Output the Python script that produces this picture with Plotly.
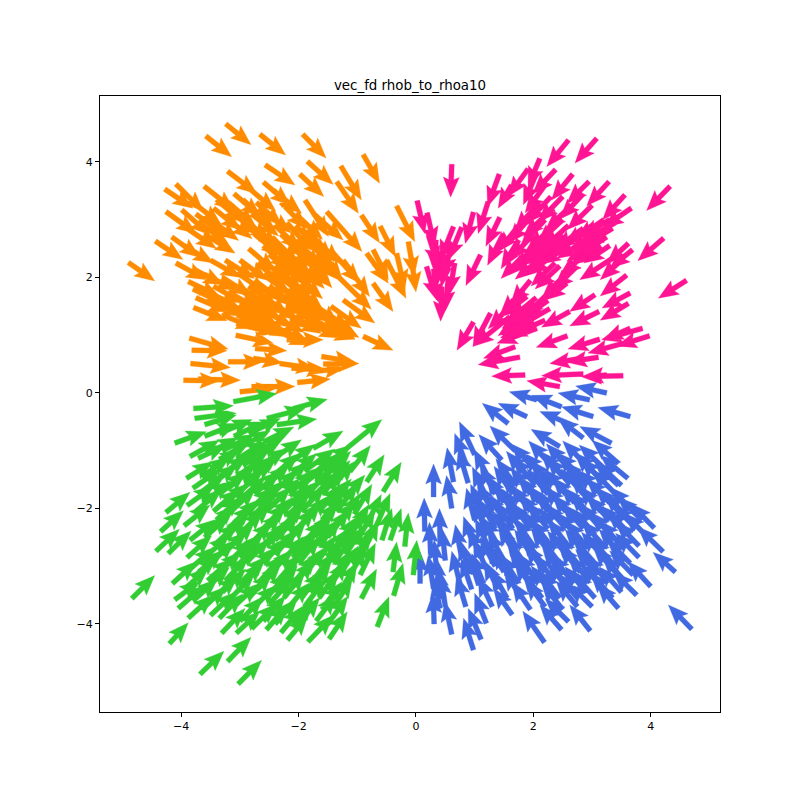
import numpy as np
import plotly.graph_objects as go

TITLE = "vec_fd rhob_to_rhoa10"
TICKS = [-4, -2, 0, 2, 4]

# each row: tail x, tail y, u, v (data units)
orange_arrows = [
(-4.90,2.26,.45,-.32),(-3.24,4.66,.43,-.36),(-3.58,4.45,.44,-.36),(-2.66,4.48,.44,-.36),(-1.93,4.48,.40,-.41),
(-.90,4.13,.28,-.50),(-2.57,3.95,.51,-.35),(-3.21,3.84,.50,-.39),(-1.85,4.01,.44,-.40),(-1.98,3.79,.41,-.39),
(-1.28,3.93,.35,-.59),(-1.35,3.66,.37,-.55),(-3.61,3.58,.52,-.42),(-4.28,3.53,.48,-.33),(-4.09,3.62,.47,-.48),
(-2.43,3.51,.48,-.40),(-1.89,3.34,.40,-.63),(-1.52,3.14,.60,-.69),(-.93,3.08,.31,-.48),(-.61,2.89,.26,-.53),
(-.33,3.24,.31,-.62),(-.13,2.62,.10,-.60),(-.08,2.35,.08,-.60),(-4.26,3.14,.52,-.38),(-3.99,3.17,.48,-.43),
(-4.44,2.63,.47,-.32),(-4.16,2.70,.48,-.35),(-4.09,2.25,.52,-.29),(-3.88,1.93,.54,-.26),(-3.79,1.48,.57,-.23),
(-3.86,.95,.66,-.19),(-3.82,.74,.60,-.01),(-3.84,.51,.68,-.07),(-3.20,.54,.60,0),(-3.96,.22,.62,-.01),
(-3.71,.24,.72,-.02),(-2.74,.77,.54,-.04),(-3.07,1.00,.64,-.14),(-2.35,1.06,.54,-.23),(-.90,.98,.51,-.24),
(-1.61,.63,.57,-.09),(-1.58,.50,.61,.01),(-2.32,.51,.62,-.09),(-2.12,.43,.60,-.03),(-3.00,.02,.62,.06),
(-2.80,.11,.74,0),(-2.02,.18,.56,.06),(-1.75,.37,.54,.06),(-2.77,.60,.50,-.08),(-1.69,1.15,.65,-.22),
(-2.20,.92,.62,0),(-3.06,1.20,.68,-.17),(-2.54,1.20,.70,-.30),(-1.46,2.48,.51,-.58),(-1.24,2.30,.45,-.63),
(-1.30,1.99,.54,-.54),(-1.24,1.61,.54,-.40),(-1.69,1.49,.57,-.38),(-1.58,1.38,.54,-.45),(-.50,2.30,.33,-.66),
(-.73,2.48,.26,-.52),(-.73,1.90,.34,-.49),(-.84,2.42,.37,-.52),(-.33,2.42,.14,-.63),(-1.75,3.11,.51,-.46),
(-3.45,3.20,.47,-.38),(-3.20,3.30,.46,-.40),(-2.95,3.35,.45,-.42),(-2.72,3.30,.44,-.40),(-2.60,3.15,.48,-.38),
(-2.30,3.30,.44,-.46),(-2.05,3.10,.46,-.44),(-3.75,3.10,.50,-.37),(-3.50,3.00,.48,-.36),(-3.25,3.05,.46,-.38),
(-2.95,3.00,.47,-.35),(-2.20,2.95,.42,-.48),(-1.95,2.85,.44,-.50),(-1.75,2.70,.46,-.46),(-3.90,2.85,.50,-.35),
(-3.60,2.75,.52,-.33),(-2.45,2.70,.44,-.46),(-2.20,2.65,.42,-.48),(-1.95,2.55,.44,-.46),(-1.65,2.45,.40,-.50),
(-3.95,2.55,.50,-.30),(-2.85,2.50,.46,-.40),(-2.60,2.55,.45,-.42),(-2.35,2.45,.44,-.44),(-2.10,2.35,.46,-.45),
(-1.85,2.30,.42,-.48),(-3.50,2.30,.52,-.30),(-3.25,2.30,.50,-.32),(-3.00,2.30,.47,-.35),(-2.70,2.25,.45,-.38),
(-2.40,2.20,.46,-.42),(-2.15,2.15,.44,-.44),(-3.80,2.15,.52,-.28),(-3.60,2.05,.54,-.27),
(-3.30,2.00,.50,-.32),(-3.00,2.05,.48,-.34),(-2.75,1.95,.47,-.36),(-2.20,1.95,.46,-.40),
(-3.20,1.75,.52,-.30),(-2.95,1.80,.50,-.33),(-2.65,1.70,.48,-.36),(-2.35,1.70,.47,-.38),(-2.10,1.65,.46,-.40),
(-1.80,1.60,.48,-.42),(-3.50,1.60,.54,-.27),(-3.20,1.50,.54,-.26),(-2.90,1.50,.52,-.30),(-2.60,1.45,.50,-.32),
(-2.30,1.45,.50,-.34),(-2.00,1.40,.50,-.36),(-1.70,1.40,.52,-.38),(-1.45,1.50,.52,-.38),(-3.30,1.35,.58,-.24),
(-2.70,1.25,.56,-.28),(-1.90,1.25,.60,-.30),(-1.55,1.30,.58,-.34),
(-3.10,3.10,.46,-.38),(-2.80,3.10,.46,-.38),(-2.80,2.90,.46,-.38),(-2.40,2.90,.44,-.42),(-2.05,2.90,.44,-.44),
(-2.75,2.75,.46,-.38),(-2.30,2.75,.44,-.42),(-1.85,2.75,.44,-.46),(-2.45,2.60,.46,-.40),(-2.05,2.60,.44,-.44),
(-1.80,2.60,.42,-.46),(-2.50,2.40,.46,-.40),(-2.20,2.40,.44,-.42),(-1.95,2.40,.44,-.44),(-1.70,2.40,.42,-.46),
(-2.55,2.25,.46,-.38),(-2.25,2.25,.46,-.40),(-2.00,2.25,.44,-.44),(-2.60,2.05,.48,-.36),(-2.35,2.05,.46,-.40),
(-2.05,2.05,.46,-.42),(-3.45,1.85,.52,-.30),(-3.10,1.85,.50,-.32),(-2.85,1.85,.48,-.34),
(-2.50,1.85,.48,-.36),(-2.30,1.85,.46,-.38),(-2.05,1.85,.46,-.40),(-3.30,1.60,.54,-.28),
(-3.00,1.60,.52,-.30),(-2.80,1.60,.50,-.32),(-2.50,1.60,.50,-.34),(-2.20,1.60,.48,-.36),(-1.95,1.60,.48,-.38),
(-3.05,1.35,.56,-.26),(-2.80,1.35,.54,-.28),(-2.45,1.35,.54,-.30),(-2.15,1.35,.54,-.32),(-1.85,1.35,.54,-.34),
(-3.40,3.35,.46,-.40),(-3.10,3.45,.46,-.40),(-2.85,3.55,.46,-.40),(-2.60,3.65,.46,-.40),(-3.70,2.95,.50,-.36),
(-3.80,3.30,.48,-.38),(-3.80,1.80,.54,-.26),(-3.55,1.75,.54,-.27),(-3.75,1.65,.56,-.25),
]

pink_arrows = [
(.61,3.96,-.02,-.57),(2.60,4.38,-.37,-.46),(3.08,4.41,-.37,-.43),(4.33,3.58,-.40,-.42),(4.22,2.68,-.44,-.39),
(4.61,1.95,-.48,-.31),(.02,3.33,.13,-.57),(.19,3.12,.13,-.59),(.98,3.13,-.14,-.54),(1.42,3.79,-.20,-.56),
(1.23,3.31,-.17,-.55),(1.91,3.88,-.34,-.48),(1.63,3.60,-.23,-.40),(2.38,3.87,-.39,-.42),(2.11,4.06,-.20,-.49),
(2.03,3.75,-.20,-.49),(2.67,3.79,-.36,-.45),(2.95,3.66,-.38,-.38),(3.29,3.66,-.38,-.42),(3.56,3.43,-.38,-.43),
(3.67,3.20,-.48,-.33),(1.43,3.04,-.24,-.50),(1.49,2.76,-.27,-.55),(1.10,2.39,-.25,-.53),(.64,2.88,-.23,-.58),
(.78,2.87,-.23,-.57),(.34,2.65,-.02,-.57),(.21,2.74,.17,-.55),(.18,2.19,.17,-.58),(.44,1.84,-.02,-.60),
(.66,2.25,-.09,-.55),(.61,2.59,-.14,-.58),(.41,2.45,-.03,-.55),(2.34,3.20,-.51,-.49),(1.83,1.78,-.40,-.43),
(1.89,1.67,-.45,-.35),(.98,1.23,-.28,-.49),(1.27,1.38,-.30,-.58),(1.60,1.32,-.62,-.51),(2.28,1.75,-.45,-.43),
(2.28,1.46,-.65,-.38),(2.20,1.26,-.65,-.29),(2.06,1.12,-.68,-.26),(3.05,1.70,-.43,-.29),(3.12,1.41,-.50,-.25),
(2.62,1.41,-.48,-.27),(3.65,1.73,-.48,-.26),(3.62,1.55,-.48,-.29),(2.58,.99,-.53,-.20),(3.13,.93,-.54,-.17),
(3.86,1.12,-.70,-.20),(3.65,1.12,-.46,-.20),(3.98,.99,-.56,-.18),(3.53,.86,-.60,-.17),(3.11,.62,-.54,-.09),
(2.82,.60,-.54,-.09),(2.85,.33,-.71,-.03),(3.53,.30,-.71,-.02),(3.25,.31,-.40,-.03),(2.45,.11,-.56,.10),
(1.86,.31,-.57,-.02),(1.77,.62,-.71,-.13),(1.69,.80,-.54,-.20),(3.59,2.04,-.45,-.36),(3.69,2.48,-.39,-.32),
(3.53,2.33,-.39,-.37),(3.62,2.59,-.37,-.35),(3.39,2.36,-.60,-.40),(2.37,2.25,-.41,-.40),(2.85,2.40,-.37,-.38),
(2.74,2.19,-.40,-.40),(2.57,1.90,-.37,-.29),(2.40,2.42,-.51,-.32),(2.10,3.30,-.42,-.50),(2.50,3.00,-.44,-.42),
(2.20,3.00,-.42,-.46),(1.95,3.05,-.38,-.46),(1.75,2.90,-.36,-.46),(2.00,2.75,-.40,-.44),(2.25,2.75,-.42,-.42),
(2.50,2.75,-.46,-.38),(1.75,2.65,-.30,-.50),(2.45,2.60,-.48,-.36),(2.75,2.75,-.46,-.36),(3.00,2.90,-.48,-.34),
(2.90,2.65,-.50,-.32),(3.30,3.00,-.50,-.30),(3.20,2.80,-.50,-.32),(3.40,2.95,-.52,-.30),(3.10,2.75,-.50,-.30),
(2.65,3.25,-.44,-.42),(3.00,3.25,-.42,-.42),(2.85,3.45,-.40,-.44),(2.30,2.55,-.50,-.34),(2.60,2.55,-.48,-.32),
(3.20,3.00,-.48,-.34),(2.90,2.40,-.44,-.34),(3.30,2.55,-.44,-.30),(1.95,1.95,-.34,-.42),(2.45,2.20,-.42,-.40),
(2.55,2.05,-.40,-.40),(2.25,1.60,-.50,-.36),(2.10,1.45,-.50,-.34),(2.05,1.65,-.46,-.38),
(2.60,2.90,-.44,-.40),(2.35,2.90,-.44,-.42),(2.20,2.60,-.46,-.38),(2.05,2.45,-.46,-.38),(1.85,2.40,-.40,-.42),
(2.15,2.35,-.46,-.38),(2.35,2.40,-.46,-.36),(3.25,2.70,-.48,-.32),(3.05,2.60,-.48,-.32),(3.35,2.85,-.50,-.30),
(3.15,2.55,-.46,-.32),(2.85,2.85,-.48,-.36),(2.30,3.40,-.42,-.46),(2.50,3.40,-.42,-.44),(2.20,3.60,-.34,-.48),
(2.15,1.40,-.50,-.32),(1.90,1.35,-.50,-.36),(1.65,1.55,-.42,-.44),(1.95,1.50,-.48,-.38),(2.00,1.25,-.56,-.30),
(.55,2.00,-.05,-.58),(.30,2.15,.08,-.58),(.50,2.40,-.06,-.56),
]

green_arrows = [
(-4.84,-3.56,.39,.40),(-4.20,-4.34,.32,.36),(-3.68,-4.87,.41,.40),(-3.21,-4.65,.40,.42),(-3.03,-5.04,.40,.41),
(-4.43,-2.74,.40,.38),(-4.22,-2.78,.39,.39),(-4.35,-2.40,.39,.36),(-4.26,-2.07,.41,.35),(-4.15,-3.30,.41,.38),
(-4.11,-3.58,.43,.32),(-4.05,-3.73,.45,.40),(-3.88,-3.90,.43,.40),(-3.31,-4.16,.40,.43),(-3.06,-4.16,.40,.38),
(-2.80,-4.08,.43,.43),(-2.55,-4.10,.37,.43),(-2.19,-4.28,.35,.43),(-1.84,-4.31,.43,.46),(-1.48,-4.26,.31,.47),
(-.93,-3.56,.26,.51),(-.66,-4.05,.20,.52),(-.38,-3.51,.16,.56),(-.045,-3.15,.06,.60),(-.19,-2.66,.06,.58),
(-.39,-3.10,.06,.52),(-.44,-2.55,.19,.55),(-.58,-2.55,.17,.55),(-.56,-1.71,.31,.51),(-.67,-2.29,.23,.55),
(-.84,-1.54,.30,.47),(-1.125,-1.36,.35,.45),(-1.18,-.96,.60,.50),(-1.75,-.96,.51,.30),(-1.69,-1.77,.57,.60),
(-1.21,-1.82,.34,.40),(-1.01,-2.57,.31,.55),(-.95,-3.15,.26,.55),(-4.11,-.87,.54,.20),(-3.79,-.27,.68,.05),
(-3.77,-.44,.71,.09),(-3.60,-.55,.54,.17),(-3.11,-.15,.74,.14),(-2.09,-.27,.58,.16),(-2.37,-.55,.68,.10),
(-2.54,-.44,.65,.17),(-3.71,-1.13,.48,.23),(-3.91,-1.48,.45,.29),(-3.30,-1.00,.55,.28),(-3.00,-.95,.52,.30),
(-2.75,-1.05,.50,.30),(-2.60,-.85,.52,.26),(-3.50,-1.30,.50,.32),(-3.20,-1.35,.48,.34),(-2.95,-1.25,.50,.32),
(-2.70,-1.30,.50,.34),(-1.90,-1.35,.52,.38),(-1.60,-1.30,.50,.40),(-3.80,-1.65,.48,.34),(-3.50,-1.60,.46,.36),
(-3.20,-1.65,.46,.38),(-2.90,-1.55,.48,.36),(-2.60,-1.65,.44,.40),(-2.30,-1.60,.46,.40),(-2.00,-1.65,.48,.40),
(-1.70,-1.55,.46,.44),(-1.45,-1.65,.40,.46),(-3.90,-1.95,.46,.34),(-3.60,-1.90,.44,.38),(-3.30,-1.95,.44,.38),
(-3.00,-1.85,.44,.40),(-2.70,-1.95,.43,.42),(-2.40,-1.90,.42,.42),(-2.10,-1.95,.44,.42),(-1.80,-1.85,.42,.44),
(-1.50,-1.95,.40,.46),(-3.40,-2.20,.42,.40),(-3.10,-2.25,.42,.40),(-2.80,-2.15,.42,.42),(-2.50,-2.25,.40,.44),
(-2.20,-2.15,.40,.44),(-1.90,-2.25,.40,.46),(-1.60,-2.20,.38,.48),(-1.30,-2.25,.36,.50),(-3.60,-2.50,.42,.38),
(-3.30,-2.55,.42,.40),(-3.00,-2.45,.40,.42),(-2.70,-2.50,.42,.42),(-2.40,-2.55,.40,.44),(-2.10,-2.45,.38,.46),
(-1.80,-2.55,.38,.46),(-1.50,-2.50,.36,.48),(-1.20,-2.55,.34,.50),(-3.60,-2.85,.42,.38),(-3.30,-2.80,.42,.40),
(-3.00,-2.85,.40,.42),(-2.70,-2.75,.40,.44),(-2.40,-2.80,.38,.44),(-2.10,-2.85,.38,.46),(-1.80,-2.75,.36,.48),
(-1.50,-2.85,.34,.50),(-1.20,-2.80,.32,.50),(-3.70,-3.10,.42,.38),(-3.40,-3.15,.42,.40),(-3.10,-3.05,.40,.42),
(-2.80,-3.10,.40,.42),(-2.50,-3.15,.40,.44),(-2.20,-3.05,.38,.46),(-1.90,-3.15,.36,.48),(-1.60,-3.10,.34,.50),
(-1.30,-3.15,.32,.50),(-3.60,-3.40,.42,.38),(-3.30,-3.45,.40,.40),(-3.00,-3.35,.40,.42),(-2.70,-3.40,.40,.44),
(-2.40,-3.45,.38,.46),(-2.10,-3.35,.36,.46),(-1.80,-3.45,.34,.48),(-1.50,-3.40,.32,.50),(-3.10,-3.70,.42,.40),
(-2.80,-3.75,.42,.42),(-2.50,-3.65,.40,.44),(-2.20,-3.75,.38,.46),(-1.90,-3.70,.36,.48),(-1.60,-3.75,.34,.48),
(-3.00,-3.95,.40,.42),(-2.60,-3.95,.38,.44),(-2.10,-4.05,.34,.46),(-1.70,-3.95,.34,.46),
(-3.35,-1.15,.52,.30),(-3.05,-1.15,.50,.32),(-2.80,-1.15,.50,.32),(-3.65,-1.45,.48,.34),(-3.35,-1.45,.48,.36),
(-3.05,-1.45,.48,.36),(-2.80,-1.45,.46,.38),(-2.45,-1.45,.46,.40),(-2.15,-1.45,.46,.40),(-1.85,-1.50,.46,.42),
(-1.55,-1.45,.44,.44),(-3.70,-1.75,.46,.36),(-3.35,-1.75,.46,.38),(-3.05,-1.75,.44,.40),(-2.75,-1.75,.44,.40),
(-2.45,-1.75,.44,.42),(-2.15,-1.75,.42,.42),(-1.85,-1.75,.42,.44),(-1.60,-1.75,.40,.46),(-3.75,-2.05,.44,.38),
(-3.45,-2.05,.44,.38),(-3.15,-2.05,.42,.40),(-2.85,-2.05,.42,.42),(-2.55,-2.05,.42,.42),(-2.25,-2.05,.40,.44),
(-1.95,-2.05,.40,.44),(-1.65,-2.05,.38,.46),(-1.35,-2.05,.36,.48),(-3.50,-2.35,.42,.40),(-3.20,-2.35,.42,.40),
(-2.90,-2.35,.42,.42),(-2.60,-2.35,.40,.44),(-2.30,-2.35,.40,.44),(-2.00,-2.35,.38,.46),(-1.70,-2.35,.38,.46),
(-1.40,-2.35,.36,.48),(-3.45,-2.65,.42,.40),(-3.15,-2.65,.40,.42),(-2.85,-2.65,.40,.42),(-2.55,-2.65,.40,.44),
(-2.25,-2.65,.38,.44),(-1.95,-2.65,.38,.46),(-1.65,-2.65,.36,.48),(-1.35,-2.65,.34,.50),(-3.50,-2.95,.42,.40),
(-3.20,-2.95,.40,.42),(-2.90,-2.95,.40,.42),(-2.60,-2.95,.38,.44),(-2.30,-2.95,.38,.46),(-2.00,-2.95,.36,.46),
(-1.70,-2.95,.34,.48),(-1.40,-2.95,.34,.50),(-3.55,-3.25,.42,.38),(-3.25,-3.25,.40,.42),(-2.95,-3.25,.40,.42),
(-2.65,-3.25,.38,.44),(-2.35,-3.25,.38,.46),(-2.05,-3.25,.36,.46),(-1.75,-3.25,.34,.48),(-1.45,-3.25,.32,.50),
(-3.45,-3.55,.42,.38),(-3.15,-3.55,.40,.42),(-2.85,-3.55,.40,.44),(-2.55,-3.55,.38,.44),(-2.25,-3.55,.36,.46),
(-1.95,-3.55,.36,.48),(-1.65,-3.55,.34,.48),
(-3.95,-2.30,.44,.36),(-3.85,-2.55,.44,.36),(-3.90,-2.85,.42,.38),(-3.85,-3.05,.42,.38),(-3.95,-3.40,.42,.38),
(-3.80,-3.20,.42,.38),(-3.80,-3.60,.42,.38),(-3.65,-3.75,.42,.40),(-3.50,-3.85,.42,.40),(-3.35,-3.90,.40,.42),
(-2.40,-4.00,.38,.44),(-2.30,-4.15,.36,.44),(-2.00,-4.00,.36,.46),(-1.50,-4.00,.34,.48),(-1.40,-3.70,.32,.50),
(-1.30,-3.45,.30,.52),(-1.15,-3.20,.30,.52),(-1.05,-2.10,.30,.52),(-1.05,-2.90,.28,.52),(-1.10,-2.45,.30,.52),
(-.85,-2.30,.26,.54),(-.90,-2.75,.26,.54),(-3.60,-.75,.56,.22),(-3.35,-.70,.56,.24),(-3.10,-.75,.54,.26),
(-3.85,-1.10,.50,.28),(-3.55,-1.05,.52,.28),(-2.85,-.70,.54,.26),(-2.45,-1.15,.50,.34),(-2.20,-1.25,.48,.36),
]

blue_arrows = [
(.30,-1.80,0,.57),(.61,-2.00,-.09,.57),(.64,-1.54,-.11,.59),(1.00,-2.20,-.14,.55),(.86,-1.25,-.20,.55),
(.89,-1.56,-.17,.58),(1.00,-1.07,-.26,.57),(1.57,-.53,-.44,.35),(1.89,-.41,-.49,.23),(2.06,-.12,-.47,.14),
(2.48,-.24,-.51,.20),(2.96,-.12,-.54,.12),(3.25,0,-.53,.12),(3.02,-.41,-.54,.17),(3.65,-.41,-.55,.16),
(2.65,-.55,-.54,.23),(2.85,-.78,-.43,.34),(3.33,-.87,-.54,.29),(2.45,-.93,-.49,.30),(1.69,-1.00,-.43,.43),
(1.46,-1.16,-.39,.44),(3.45,-1.22,-.45,.40),(3.61,-1.48,-.47,.40),(3.45,-1.60,-.40,.38),(4.06,-2.34,-.40,.42),
(4.21,-2.75,-.43,.43),(4.42,-3.10,-.38,.34),(4.00,-3.35,-.39,.43),(3.76,-3.50,-.40,.40),(3.45,-3.73,-.37,.43),
(3.00,-3.70,-.40,.40),(4.70,-4.09,-.40,.42),(2.97,-4.12,-.35,.45),(2.48,-4.10,-.37,.43),(2.60,-3.96,-.40,.40),
(2.19,-4.32,-.37,.54),(1.64,-3.84,-.32,.46),(1.20,-3.99,-.20,.52),(1.11,-4.27,-.22,.54),(.98,-4.45,-.17,.55),
(.61,-4.18,-.12,.57),(.31,-4.00,-.02,.54),(.41,-3.73,-.10,.52),(.07,-3.30,0,.55),(.30,-3.39,-.09,.58),
(.47,-3.56,-.11,.46),(.15,-2.40,-.01,.58),(.41,-2.55,-.01,.55),(.78,-2.86,-.11,.58),(.98,-2.63,-.17,.49),
(1.07,-3.33,-.18,.58),(2.00,-1.30,-.38,.42),(2.30,-1.25,-.38,.42),(2.60,-1.30,-.38,.42),
(2.90,-1.25,-.40,.42),(3.20,-1.30,-.42,.40),(1.70,-1.60,-.34,.46),(2.00,-1.55,-.36,.44),(2.30,-1.60,-.36,.44),
(2.60,-1.55,-.38,.44),(2.90,-1.60,-.40,.42),(3.20,-1.55,-.40,.42),(3.50,-1.60,-.42,.40),(1.50,-1.90,-.30,.48),
(1.80,-1.85,-.34,.46),(2.10,-1.90,-.36,.46),(2.40,-1.85,-.36,.44),(2.70,-1.90,-.38,.44),(3.00,-1.85,-.38,.44),
(3.30,-1.90,-.40,.42),(1.50,-2.20,-.30,.48),(1.80,-2.15,-.32,.48),(2.10,-2.20,-.34,.46),(2.40,-2.15,-.36,.46),
(2.70,-2.20,-.38,.44),(3.00,-2.15,-.38,.44),(3.30,-2.20,-.40,.42),(3.60,-2.15,-.40,.42),(3.85,-2.20,-.42,.40),
(1.55,-2.50,-.30,.50),(1.85,-2.45,-.32,.48),(2.15,-2.50,-.34,.46),(2.45,-2.45,-.36,.46),(2.75,-2.50,-.36,.44),
(3.05,-2.45,-.38,.44),(3.35,-2.50,-.38,.44),(3.65,-2.45,-.40,.42),(3.95,-2.50,-.40,.42),(1.70,-2.80,-.30,.50),
(2.00,-2.85,-.32,.48),(2.30,-2.80,-.34,.46),(2.60,-2.85,-.36,.46),(2.90,-2.80,-.36,.44),(3.20,-2.85,-.38,.44),
(3.50,-2.80,-.38,.44),(3.80,-2.85,-.40,.42),(1.50,-3.10,-.30,.50),(1.90,-3.15,-.32,.48),(2.20,-3.10,-.34,.48),
(2.50,-3.15,-.34,.46),(2.80,-3.10,-.36,.46),(3.10,-3.15,-.38,.44),(3.40,-3.10,-.38,.44),(3.70,-3.15,-.40,.42),
(2.00,-3.40,-.32,.48),(2.30,-3.45,-.34,.46),(2.60,-3.40,-.36,.46),(2.90,-3.45,-.36,.44),(3.20,-3.40,-.38,.44),
(3.50,-3.45,-.38,.44),(2.20,-3.70,-.34,.46),(2.50,-3.75,-.36,.46),(2.75,-3.70,-.36,.44),(.90,-3.10,-.14,.54),
(.95,-3.40,-.18,.54),(.75,-3.30,-.14,.56),(.85,-3.70,-.16,.54),(.50,-3.70,-.08,.56),(.40,-3.40,-.06,.56),
(.35,-3.10,-.04,.56),(.50,-2.90,-.06,.56),(.25,-2.80,-.02,.56),(.45,-3.55,-.08,.54),(1.15,-3.30,-.20,.52),
(1.40,-3.40,-.24,.50),
(1.90,-1.45,-.36,.44),(2.20,-1.45,-.38,.42),(2.50,-1.45,-.38,.44),(2.80,-1.45,-.40,.42),(3.10,-1.45,-.40,.42),
(1.65,-1.75,-.32,.48),(1.95,-1.75,-.34,.46),(2.25,-1.75,-.36,.44),(2.55,-1.75,-.38,.44),(2.85,-1.75,-.38,.44),
(3.15,-1.75,-.40,.42),(3.40,-1.75,-.40,.42),(1.65,-2.05,-.32,.48),(1.95,-2.05,-.34,.46),(2.25,-2.05,-.36,.46),
(2.55,-2.05,-.36,.44),(2.85,-2.05,-.38,.44),(3.15,-2.05,-.38,.44),(3.45,-2.05,-.40,.42),(3.70,-2.05,-.40,.42),
(1.65,-2.35,-.30,.48),(1.95,-2.35,-.34,.46),(2.25,-2.35,-.36,.46),(2.55,-2.35,-.36,.44),(2.85,-2.35,-.36,.44),
(3.15,-2.35,-.38,.44),(3.50,-2.35,-.40,.42),(3.75,-2.35,-.40,.42),(1.70,-2.65,-.30,.50),(2.00,-2.65,-.32,.48),
(2.30,-2.65,-.34,.46),(2.60,-2.65,-.36,.46),(2.90,-2.65,-.36,.44),(3.20,-2.65,-.38,.44),(3.50,-2.65,-.38,.44),
(3.80,-2.65,-.40,.42),(1.85,-2.95,-.32,.48),(2.15,-2.95,-.34,.48),(2.45,-2.95,-.34,.46),(2.75,-2.95,-.36,.46),
(3.05,-2.95,-.38,.44),(3.35,-2.95,-.38,.44),(3.65,-2.95,-.40,.42),(2.05,-3.25,-.32,.48),(2.35,-3.25,-.34,.46),
(2.65,-3.25,-.36,.46),(2.95,-3.25,-.36,.44),(3.25,-3.25,-.38,.44),(3.55,-3.25,-.38,.44),(2.15,-3.55,-.34,.46),
(2.45,-3.55,-.34,.46),(2.75,-3.55,-.36,.44),(3.05,-3.55,-.38,.44),(3.35,-3.55,-.38,.44),
(1.25,-1.50,-.26,.52),(1.20,-1.80,-.24,.52),(1.35,-1.75,-.26,.50),(1.15,-2.10,-.22,.52),(1.30,-2.05,-.26,.50),
(1.20,-2.40,-.22,.52),(1.35,-2.35,-.26,.50),(1.25,-2.70,-.24,.52),(1.40,-2.65,-.26,.50),(1.35,-3.00,-.26,.50),
(1.50,-2.90,-.28,.50),(1.20,-3.05,-.22,.52),(1.60,-3.20,-.28,.50),(1.75,-3.30,-.30,.50),(1.80,-3.55,-.30,.48),
(1.55,-3.55,-.28,.50),(1.95,-3.75,-.32,.48),(1.30,-3.70,-.24,.52),(1.10,-2.85,-.20,.52),
]

# quiver head proportions, in screen pixels
SHAFT = 2.5
HEAD_HALF = 8.0
HEAD_LEN = 20.0
HEAD_AXIS = 17.5
PX_X = 58.7
PX_Y = 57.75


def polygons(rows):
    xs, ys = [], []
    for x, y, u, v in rows:
        dx, dy = u * PX_X, v * PX_Y
        L = np.hypot(dx, dy)
        ax, ay = dx / L, dy / L
        nx, ny = -ay, ax
        shape = [(0, SHAFT), (L - HEAD_AXIS, SHAFT), (L - HEAD_LEN, HEAD_HALF), (L, 0),
                 (L - HEAD_LEN, -HEAD_HALF), (L - HEAD_AXIS, -SHAFT), (0, -SHAFT), (0, SHAFT)]
        for a, b in shape:
            xs.append(x + (a * ax + b * nx) / PX_X)
            ys.append(y + (a * ay + b * ny) / PX_Y)
        xs.append(None)
        ys.append(None)
    return xs, ys


fig = go.Figure()
for rows, colour, name in [(blue_arrows, "#4169e1", "blue"), (pink_arrows, "#ff1493", "pink"),
                           (orange_arrows, "#ff8c00", "orange"), (green_arrows, "#32cd32", "green")]:
    xs, ys = polygons(rows)
    fig.add_trace(go.Scatter(x=xs, y=ys, mode="lines", fill="toself", fillcolor=colour,
                             line=dict(color=colour, width=0.3), hoverinfo="skip", name=name))

axis = dict(showgrid=False, zeroline=False, showline=True, mirror=True, linecolor="black", linewidth=1,
            ticks="outside", ticklen=4, tickwidth=1, tickcolor="black", tickvals=TICKS)
fig.update_layout(
    width=800, height=800, showlegend=False, plot_bgcolor="white", paper_bgcolor="white",
    margin=dict(l=92, r=88, t=88, b=96),
    font=dict(family="DejaVu Sans", size=11, color="black"),
    title=dict(text=TITLE, x=402 / 800, xanchor="center", y=1 - 77 / 800, yanchor="middle",
               font=dict(size=13.4, family="DejaVu Sans", color="black")),
    xaxis=dict(range=[-5.383, 5.18], **axis),
    yaxis=dict(range=[-5.524, 5.142], **axis),
)
fig.write_html("out.html")
